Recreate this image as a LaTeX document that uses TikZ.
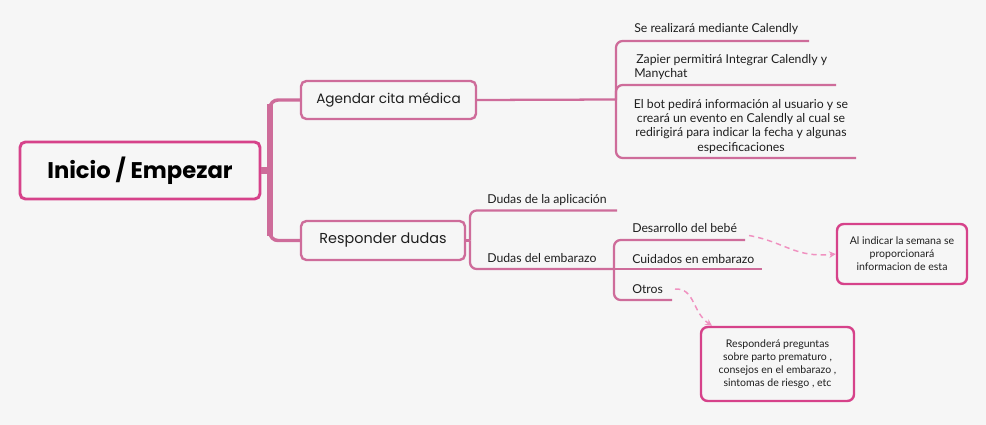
\documentclass[tikz,border=0pt]{standalone}
\usepackage{fontspec}
\setmainfont{Lato}
\newfontfamily\headfont{Poppins}
\usetikzlibrary{arrows.meta}
\definecolor{bgc}{RGB}{246,246,246}
\definecolor{rootc}{RGB}{214,66,138}
\definecolor{linec}{RGB}{206,108,154}
\definecolor{dashc}{RGB}{240,145,192}
\definecolor{txt}{RGB}{30,30,30}
\tikzset{
  rootbox/.style={draw=rootc, line width=2.2pt, rounded corners=4pt, fill=bgc, text=black,
    font=\headfont\bfseries\fontsize{17}{19}\selectfont, inner sep=0pt},
  mainbox/.style={draw=linec, line width=1.8pt, rounded corners=4pt, fill=bgc, text=txt,
    font=\headfont\fontsize{10.2}{12}\selectfont, inner sep=0pt},
  notebox/.style={draw=rootc, line width=1.8pt, rounded corners=5pt, fill=bgc, text=txt,
    font=\fontsize{7.9}{9.8}\selectfont, align=center, inner sep=0pt},
  leaf/.style={text=txt, font=\fontsize{9.2}{10.7}\selectfont, inner sep=0pt},
  br/.style={draw=linec, line width=1.7pt, rounded corners=5pt},
  trunk/.style={draw=linec, line width=2.6pt, rounded corners=6pt},
  dasharrow/.style={draw=dashc, line width=1.1pt, dash pattern=on 4pt off 3pt,
    -{Stealth[length=5pt,width=5pt]}}
}
\begin{document}
\begin{tikzpicture}[x=0.75pt,y=-0.75pt]
\fill[bgc] (0,0) rectangle (986,425);
\useasboundingbox (0,0) rectangle (986,425);

% main nodes
\node[rootbox, minimum width=180pt, minimum height=42.75pt] (root) at (140,170.5) {Inicio / Empezar};
\node[mainbox, minimum width=131.25pt, minimum height=28.5pt] (agendar) at (388.5,100) {Agendar cita médica};
\node[mainbox, minimum width=123pt, minimum height=29.25pt] (responder) at (383,240.5) {\fontsize{10.8}{12}\selectfont Responder dudas};

% trunk
\coordinate (tj) at (270,170.5);
\draw[draw=linec, line width=5pt] (root.east) -- (tj);
\draw[trunk] (agendar.west) -- (270,100) -- (270,240.5) -- (responder.west);
\draw[draw=linec, line width=4.5pt] (270,104) -- (270,236);

% Agendar leaves
\node[leaf, anchor=base west] (l1) at (634,32.5) {Se realizará mediante Calendly};
\node[leaf, anchor=base west, align=left] (l2) at (634,77.5) {\,Zapier permitirá Integrar Calendly y\\Manychat};
\node[leaf, anchor=base, align=center] (l3) at (741,151) {El bot pedirá información al usuario y se\\creará un evento en Calendly al cual se\\redirigirá para indicar la fecha y algunas\\especificaciones};
\coordinate (j1) at (616,99.5);
\coordinate (c1) at (616,41);
\coordinate (e1) at (809,41);
\coordinate (e2) at (836,85);
\coordinate (e3) at (856,158);
\draw[br] (agendar.east) -- (j1);
\draw[br] (j1) -- (c1) -- (e1);
\draw[draw=linec, line width=1.7pt] (621,41) -- (e1);
\draw[br] (j1) -- (616,158) -- (e3);
\draw[br] (e2) -- (616,85) -- (616,100);

% Responder leaves
\coordinate (j2) at (470,240.5);
\node[leaf, anchor=base west] (d1) at (487,203.5) {Dudas de la aplicación};
\node[leaf, anchor=base west] (d2) at (487,262.5) {Dudas del embarazo};
\coordinate (f1) at (617,210.5);
\coordinate (j3) at (614,269);
\draw[br] (responder.east) -- (j2);
\draw[br] (j2) -- (470,210.5) -- (f1);
\draw[br] (j2) -- (470,269) -- (j3);

\node[leaf, anchor=base west] (s1) at (632,232) {Desarrollo del bebé};
\node[leaf, anchor=base west] (s2) at (632,263) {Cuidados en embarazo};
\node[leaf, anchor=base west] (s3) at (632,293) {Otros};
\coordinate (g1) at (745,240);
\coordinate (g2) at (762,269);
\coordinate (g3) at (672,300);
\draw[br] (j3) -- (614,240) -- (g1);
\draw[br] (j3) -- (614,300) -- (g3);
\draw[br] (j3) -- (g2);

% notes
\node[notebox, minimum width=97.5pt, minimum height=45pt] (n1) at (902,254)
  {Al indicar la semana se\\proporcionará\\informacion de esta};
\node[notebox, minimum width=114.75pt, minimum height=55.5pt] (n2) at (777.5,364)
  {Responderá preguntas\\sobre parto prematuro ,\\consejos en el embarazo ,\\sintomas de riesgo , etc};

\coordinate (a1) at (749,235.5);
\coordinate (a2) at (675,289);
\draw[dasharrow] (a1) .. controls (785,242) and (795,258) .. (n1.west);
\draw[dasharrow] (a2) .. controls (695,288) and (692,312) .. (n2.north west -| 712,327);
\end{tikzpicture}
\end{document}
